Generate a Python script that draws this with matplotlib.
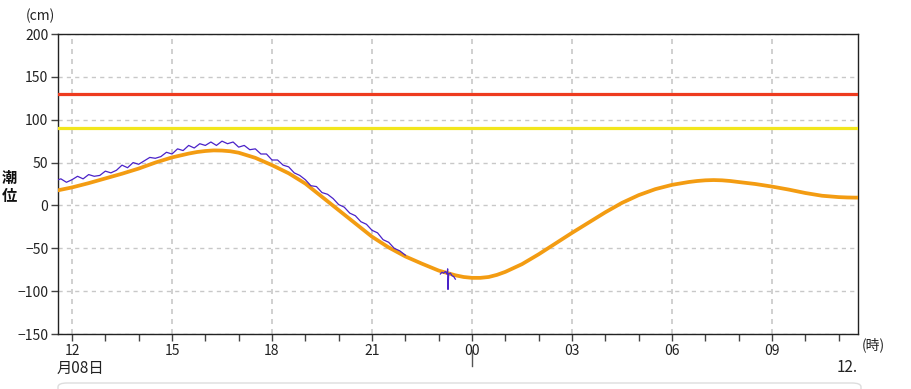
import numpy as np
import matplotlib
matplotlib.use('Agg')
import matplotlib.pyplot as plt
from matplotlib.patches import FancyBboxPatch
from matplotlib.lines import Line2D

plt.rcParams['font.family'] = ['Noto Sans CJK JP', 'DejaVu Sans']

# hours since 00:00 on the 8th
pred_hours = [11.5, 12.0, 12.5, 13.0, 13.5, 14.0, 14.5, 15.0, 15.5, 15.75, 16.0, 16.25,
              16.5, 16.75, 17.0, 17.5, 18.0, 18.5, 19.0, 19.5, 20.0, 20.5, 21.0, 21.5,
              22.0, 22.5, 23.0, 23.5, 23.75, 24.0, 24.25, 24.5, 24.75, 25.0, 25.5,
              26.0, 26.5, 27.0, 27.5, 28.0, 28.5, 29.0, 29.5, 30.0, 30.5, 30.75,
              31.0, 31.25, 31.5, 31.75, 32.0, 32.5, 33.0, 33.5, 34.0, 34.5, 35.0,
              35.25, 35.5, 35.7]
pred_level = [17, 21, 26, 31.5, 37, 43, 50, 56, 60.5, 62.3, 63.5, 64.2,
              64, 63.2, 61.5, 55.5, 47, 37.5, 25.5, 10, -5.5, -21, -36.5, -49,
              -59.5, -68, -76, -81.5, -83.5, -84.5, -84.5, -83.5, -81, -77.5, -68.5,
              -57, -44.5, -32, -20, -8, 3, 12, 19, 24, 27.3, 28.5,
              29.3, 29.6, 29.3, 28.5, 27.3, 25, 22, 18.5, 14.5, 11.3, 9.7,
              9.3, 9.1, 9.2]

obs_hours = [11.5 + k / 6 for k in range(64)]
obs_level = [29, 31, 27, 30, 34, 31, 36, 34, 35, 40, 38, 41, 47, 44, 50, 48,
             52, 56, 55, 57, 62, 60, 66, 64, 70, 67, 72, 70, 74, 70, 75, 72,
             74, 68, 70, 65, 66, 60, 60, 53, 53, 47, 45, 38, 35, 30, 23, 22,
             15, 13, 8, 1, -2, -9, -12, -19, -22, -29, -32, -40, -43, -50, -53, -58]

blip_hours = [23.05, 23.1, 23.15, 23.2, 23.25, 23.27, 23.28, 23.3, 23.35, 23.4, 23.45, 23.5]
blip_level = [-80, -78, -79, -77, -80, -74, -98, -80, -79, -82, -83, -86]

warn_level = 130
caution_level = 90

tick_hours = list(range(12, 36))

fig = plt.figure(figsize=(9.12, 3.89), dpi=100)
ax = fig.add_axes([58 / 912, 1 - 334 / 389, 800 / 912, 300 / 389])

ax.axhline(warn_level, color='#ee3b1f', lw=2.3, zorder=3)
ax.axhline(caution_level, color='#f2e61c', lw=2.3, zorder=3)
ax.plot(pred_hours, pred_level, color='#f39c12', lw=2.7, zorder=4,
        solid_capstyle='round', solid_joinstyle='round')
ax.plot(obs_hours, obs_level, color='#4a22c8', lw=0.9, zorder=5)
ax.plot(blip_hours, blip_level, color='#4a22c8', lw=0.9, zorder=5)

ax.set_xlim(11.58, 35.58)
ax.set_ylim(-150, 200)
ax.set_yticks(range(-150, 201, 50))
ax.set_xticks(tick_hours)
ax.set_xticklabels(['%02d' % (h % 24) if h % 3 == 0 else '' for h in tick_hours])

ax.tick_params(axis='both', direction='out', length=5, width=1, color='#444444',
               labelsize=10, pad=2, labelcolor='#222222')
for s in ax.spines.values():
    s.set_color('#222222')
    s.set_linewidth(1)

ax.grid(axis='y', color='#c8c8c8', ls=(0, (3, 3)), lw=1)
for h in tick_hours:
    if h % 3 == 0:
        ax.axvline(h, color='#c8c8c8', ls=(0, (3, 3)), lw=1.2, zorder=1)

fig.text(40 / 912, 1 - 16 / 389, '(cm)', ha='center', va='center', fontsize=10, color='#222222')
fig.text(873 / 912, 1 - 345 / 389, '(時)', ha='center', va='center', fontsize=10, color='#222222')
fig.text(9 / 912, 1 - 187 / 389, '潮\n位', ha='center', va='center', fontsize=11,
         fontweight='bold', linespacing=1.1, color='#111111')
fig.text(57 / 912, 1 - 368 / 389, '月08日', ha='left', va='center', fontsize=11, color='#222222')
fig.text(858 / 912, 1 - 368 / 389, '12.', ha='right', va='center', fontsize=11, color='#222222')

fig.add_artist(Line2D([472 / 912, 472 / 912], [1 - 350 / 389, 1 - 366 / 389],
                      color='#555555', lw=1))
fig.add_artist(FancyBboxPatch((58 / 912, -0.05), 803 / 912, 1 - 383 / 389 + 0.05,
                              boxstyle='round,pad=0,rounding_size=0.01',
                              fc='white', ec='#dddddd', lw=1, transform=fig.transFigure))

fig.savefig('out.png', dpi=100)
